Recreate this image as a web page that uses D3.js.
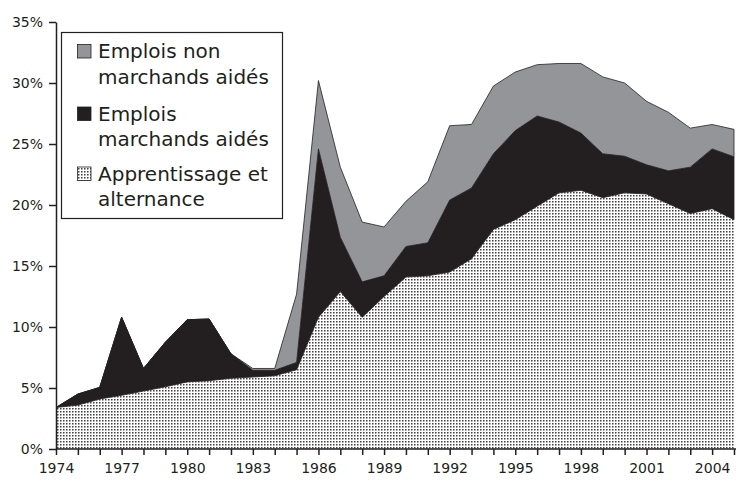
<!DOCTYPE html>
<html>
<head>
<meta charset="utf-8">
<script src="https://cdn.jsdelivr.net/npm/d3@7"></script>
<style>
  body { margin: 0; background: #fff; }
  text { font-family: "DejaVu Sans", sans-serif; fill: #231f20; }
</style>
</head>
<body>
<div id="chart"></div>
<script>
// data (percent)
var years = d3.range(1974, 2006);
var apprentissage = [3.4, 3.6, 4.1, 4.4, 4.75, 5.1, 5.5, 5.6, 5.8, 5.9, 6.0, 6.5,
  10.8, 12.9, 10.8, 12.5, 14.1, 14.2, 14.5, 15.6, 18.0, 18.8, 19.9, 21.0,
  21.2, 20.6, 21.0, 20.9, 20.1, 19.3, 19.7, 18.8];
var marchands = [0, 0.9, 0.95, 6.4, 1.85, 3.65, 5.1, 5.05, 2.0, 0.55, 0.45, 0.6,
  13.8, 4.45, 2.9, 1.7, 2.5, 2.7, 5.9, 5.8, 6.2, 7.3, 7.4, 5.8,
  4.7, 3.6, 3.0, 2.4, 2.7, 3.8, 4.9, 5.15];
var nonMarchands = [0, 0, 0, 0, 0, 0, 0, 0, 0, 0.15, 0.15, 5.6,
  5.6, 5.75, 4.9, 4.0, 3.7, 5.0, 6.1, 5.2, 5.55, 4.8, 4.2, 4.8,
  5.7, 6.3, 6.0, 5.2, 4.8, 3.2, 2.0, 2.25];
var yTicks = [0, 5, 10, 15, 20, 25, 30, 35];
var xLabelYears = [1974, 1977, 1980, 1983, 1986, 1989, 1992, 1995, 1998, 2001, 2004];

var svgWidth = 736;
var svgHeight = 482;

var svg = d3.select("#chart")
  .append("svg")
  .attr("width", svgWidth)
  .attr("height", svgHeight);

// dotted fill for apprentissage
var pattern = svg.append("defs").append("pattern")
  .attr("id", "dots")
  .attr("width", 3)
  .attr("height", 3)
  .attr("patternUnits", "userSpaceOnUse");
pattern.append("rect").attr("width", 3).attr("height", 3).attr("fill", "#fff");
pattern.append("rect").attr("width", 1).attr("height", 1).attr("fill", "#444");
pattern.append("rect").attr("x", 1).attr("width", 1).attr("height", 1).attr("fill", "#999");
pattern.append("rect").attr("y", 1).attr("width", 1).attr("height", 1).attr("fill", "#999");
pattern.append("rect").attr("x", 1).attr("y", 1).attr("width", 1).attr("height", 1).attr("fill", "#ccc");

var table = years.map(function(yr, i) {
  return { year: yr, appr: apprentissage[i], march: marchands[i], nonmarch: nonMarchands[i] };
});

var keys = ["appr", "march", "nonmarch"];
var fills = { appr: "url(#dots)", march: "#231f20", nonmarch: "#939598" };

var series = d3.stack().keys(keys)(table);

var x = d3.scaleLinear().domain([1974, 2005]).range([56, 734]);
var y = d3.scaleLinear().domain([0, 35]).range([449, 22]);

var area = d3.area()
  .x(function(d) { return x(d.data.year); })
  .y0(function(d) { return y(d[0]); })
  .y1(function(d) { return y(d[1]); });

svg.append("g")
  .selectAll("path")
  .data(series)
  .enter()
  .append("path")
  .attr("d", area)
  .attr("fill", function(d) { return fills[d.key]; })
  .attr("stroke", function(d) { return d.key === "appr" ? "none" : "#231f20"; })
  .attr("stroke-width", 0.8)
  .attr("stroke-linejoin", "round");

// axes
var leftAxis = d3.axisLeft(y)
  .tickValues(yTicks)
  .tickSize(7)
  .tickSizeOuter(0)
  .tickFormat(function(d) { return d + "%"; });

var yAxis = svg.append("g")
  .attr("transform", "translate(56,0)")
  .call(leftAxis);
yAxis.select(".domain").attr("stroke", "#231f20").attr("stroke-width", 1.5);
yAxis.selectAll(".tick line").attr("stroke", "#231f20").attr("stroke-width", 1.5);
yAxis.selectAll("text")
  .attr("x", -13)
  .attr("font-size", 14)
  .attr("font-family", "DejaVu Sans, sans-serif")
  .attr("fill", "#231f20");

var bottomAxis = d3.axisBottom(x)
  .tickValues(years)
  .tickSize(6)
  .tickSizeOuter(0)
  .tickFormat(function(d) { return xLabelYears.indexOf(d) >= 0 ? d : ""; });

var xAxis = svg.append("g")
  .attr("transform", "translate(0,449)")
  .call(bottomAxis);
xAxis.select(".domain").attr("stroke", "#231f20").attr("stroke-width", 1.5)
  .attr("d", "M56,0H736");
xAxis.selectAll(".tick line").attr("stroke", "#231f20").attr("stroke-width", 1.5);
xAxis.selectAll("text")
  .attr("y", 14)
  .attr("font-size", 14)
  .attr("font-family", "DejaVu Sans, sans-serif")
  .attr("fill", "#231f20");

// legend
var legend = svg.append("g");
legend.append("rect")
  .attr("x", 61.5).attr("y", 32.5)
  .attr("width", 221).attr("height", 186)
  .attr("fill", "#fff")
  .attr("stroke", "#231f20")
  .attr("stroke-width", 1.2);

var legendItems = [
  { key: "nonmarch", lines: ["Emplois non", "marchands aidés"], base: 58 },
  { key: "march", lines: ["Emplois", "marchands aidés"], base: 120.5 },
  { key: "appr", lines: ["Apprentissage et", "alternance"], base: 180.5 }
];

legendItems.forEach(function(item) {
  legend.append("rect")
    .attr("x", 77.5).attr("y", item.base - 13.5)
    .attr("width", 13.5).attr("height", 13.5)
    .attr("fill", fills[item.key])
    .attr("stroke", "#231f20")
    .attr("stroke-width", 0.8);
  item.lines.forEach(function(line, j) {
    legend.append("text")
      .attr("x", 98)
      .attr("y", item.base + j * 25.5)
      .attr("font-size", 20)
      .text(line);
  });
});
</script>
</body>
</html>
